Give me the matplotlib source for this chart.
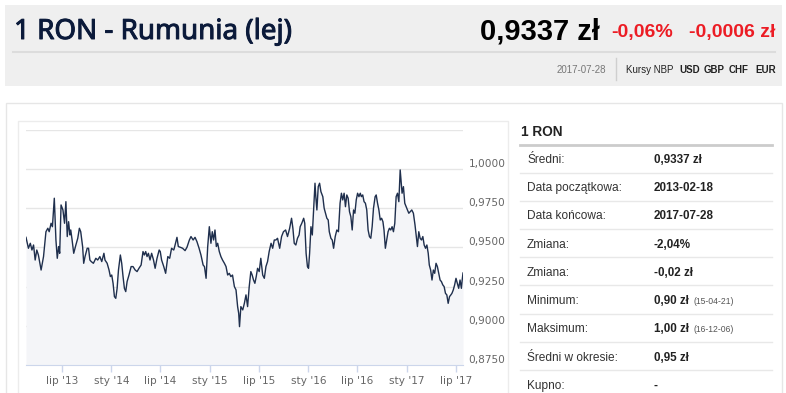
import numpy as np
import pandas as pd
import matplotlib
matplotlib.use('Agg')
import matplotlib.pyplot as plt
import matplotlib.patheffects as pe
from matplotlib.patches import Rectangle

# RON/PLN rate, day offsets counted from the start date
start_date = '2013-02-18'
day_offset = [0, 9, 16, 22, 28, 34, 40, 46, 56, 65, 74, 81, 86, 93, 98, 105, 111, 116, 121, 125,
              130, 137, 143, 148, 153, 158, 163, 166, 171, 177, 185, 192, 198, 203, 210, 214, 219, 227, 232, 237,
              242, 250, 259, 266, 274, 281, 289, 293, 301, 308, 313, 318, 323, 328, 333, 338, 343, 350, 355, 360,
              365, 370, 375, 382, 390, 397, 405, 412, 419, 427, 434, 439, 444, 449, 454, 460, 466, 473, 479, 486,
              494, 498, 503, 511, 518, 526, 533, 540, 548,
              550, 560, 565, 573, 581, 590, 597, 606, 612, 620, 627, 634, 642, 649, 657, 662, 668, 674, 680, 686,
              691, 696, 701, 706, 711, 717, 723, 729, 736, 742, 748, 754, 760, 766, 773, 779, 785, 789, 792, 797,
              804, 810, 816, 822, 828, 834, 839, 844, 849, 854, 859, 865, 871, 878, 884, 890, 896, 902, 909, 915,
              921, 927, 933, 941, 948, 955, 963, 970, 978, 985, 990, 995, 1001, 1007, 1013, 1017, 1023, 1030, 1034, 1039,
              1044, 1048, 1052, 1057, 1062, 1067, 1072, 1075, 1079, 1084, 1089, 1094,
              1101, 1106, 1111, 1116, 1121, 1125, 1131, 1136, 1141, 1147, 1153, 1159, 1165, 1170, 1175, 1180, 1185, 1190,
              1195, 1200, 1205, 1210, 1215, 1220, 1225, 1230, 1235, 1240, 1244, 1249, 1254, 1259, 1264, 1269, 1274, 1279,
              1284, 1289, 1295, 1299, 1304, 1309, 1314, 1319, 1324, 1328, 1333, 1338, 1343, 1348, 1353, 1358, 1363, 1368,
              1373, 1378, 1383, 1388, 1391, 1395, 1400, 1405, 1410, 1415, 1420, 1425, 1431, 1437, 1443, 1448, 1452, 1457,
              1462, 1467, 1472, 1477, 1482, 1487, 1492, 1496, 1501, 1506, 1511, 1516, 1521, 1526, 1531, 1536, 1541, 1546,
              1551, 1556, 1561, 1566, 1571, 1576, 1580, 1585, 1590, 1595, 1600, 1605, 1610, 1615, 1618, 1621]
rate = [0.9565, 0.9495, 0.9527, 0.9484, 0.9516, 0.9420, 0.9484, 0.9452, 0.9356, 0.9442, 0.9601, 0.9623, 0.9601, 0.9655, 0.9633, 0.9815, 0.9548, 0.9431, 0.9506, 0.9463,
        0.9772, 0.9740, 0.9655, 0.9793, 0.9570, 0.9665, 0.9580, 0.9612, 0.9548, 0.9463, 0.9516, 0.9559, 0.9623, 0.9601, 0.9506, 0.9399, 0.9442, 0.9495, 0.9495, 0.9420,
        0.9410, 0.9399, 0.9431, 0.9420, 0.9442, 0.9410, 0.9463, 0.9420, 0.9399, 0.9356, 0.9314, 0.9324, 0.9271, 0.9186, 0.9175, 0.9239, 0.9356, 0.9452, 0.9399, 0.9314,
        0.9239, 0.9218, 0.9282, 0.9324, 0.9378, 0.9378, 0.9356, 0.9346, 0.9367, 0.9388, 0.9474, 0.9452, 0.9474, 0.9442, 0.9463, 0.9420, 0.9463, 0.9420, 0.9367, 0.9431,
        0.9484, 0.9474, 0.9420, 0.9378, 0.9335, 0.9442, 0.9431, 0.9495, 0.9484,
        0.9495, 0.9565, 0.9506, 0.9501, 0.9495, 0.9480, 0.9501, 0.9548, 0.9570, 0.9548, 0.9565, 0.9538, 0.9495, 0.9452, 0.9388, 0.9378, 0.9303, 0.9506, 0.9633, 0.9527,
        0.9601, 0.9548, 0.9612, 0.9506, 0.9527, 0.9474, 0.9442, 0.9420, 0.9399, 0.9378, 0.9324, 0.9335, 0.9314, 0.9324, 0.9250, 0.9229, 0.9122, 0.9079, 0.8994, 0.9122,
        0.9101, 0.9143, 0.9197, 0.9122, 0.9250, 0.9346, 0.9324, 0.9292, 0.9271, 0.9314, 0.9367, 0.9346, 0.9431, 0.9324, 0.9303, 0.9378, 0.9410, 0.9474, 0.9527, 0.9495,
        0.9548, 0.9548, 0.9559, 0.9495, 0.9570, 0.9601, 0.9612, 0.9570, 0.9623, 0.9687, 0.9623, 0.9527, 0.9516, 0.9559, 0.9580, 0.9633, 0.9655, 0.9687, 0.9655, 0.9463,
        0.9378, 0.9367, 0.9463, 0.9633, 0.9580, 0.9740, 0.9911, 0.9825, 0.9740, 0.9889, 0.9911, 0.9857,
        0.9825, 0.9751, 0.9719, 0.9687, 0.9676, 0.9601, 0.9559, 0.9548, 0.9495, 0.9570, 0.9612, 0.9601, 0.9783, 0.9847, 0.9804, 0.9847, 0.9761, 0.9836,
        0.9815, 0.9729, 0.9697, 0.9612, 0.9740, 0.9719, 0.9804, 0.9847, 0.9825, 0.9847, 0.9825, 0.9836, 0.9793, 0.9783, 0.9740, 0.9612, 0.9570, 0.9559,
        0.9633, 0.9751, 0.9825, 0.9836, 0.9783, 0.9740, 0.9676, 0.9687, 0.9665, 0.9612, 0.9495, 0.9548, 0.9601, 0.9623, 0.9612, 0.9633, 0.9601, 0.9655,
        0.9825, 0.9847, 0.9793, 0.9996, 0.9932, 0.9847, 0.9889, 0.9783, 0.9761, 0.9740, 0.9719, 0.9729, 0.9740, 0.9719, 0.9644, 0.9570, 0.9506, 0.9601,
        0.9559, 0.9548, 0.9570, 0.9516, 0.9495, 0.9516, 0.9463, 0.9388, 0.9356, 0.9292, 0.9356, 0.9335, 0.9399, 0.9378, 0.9335, 0.9292, 0.9282, 0.9261,
        0.9250, 0.9207, 0.9197, 0.9143, 0.9186, 0.9197, 0.9207, 0.9229, 0.9261, 0.9303, 0.9271, 0.9239, 0.9292, 0.9239, 0.9292, 0.9337]

y_ticks = [0.875, 0.900, 0.925, 0.950, 0.975, 1.000, 1.025]
y_labels = ['0,8750', '0,9000', '0,9250', '0,9500', '0,9750', '1,0000', '']
x_tick_dates = ['2013-07-01', '2014-01-01', '2014-07-01', '2015-01-01', '2015-07-01',
                '2016-01-01', '2016-07-01', '2017-01-01', '2017-07-01']
x_labels = ["lip '13", "sty '14", "lip '14", "sty '15", "lip '15", "sty '16", "lip '16", "sty '17", "lip '17"]

table_labels = ['Średni:', 'Data początkowa:', 'Data końcowa:', 'Zmiana:', 'Zmiana:',
                'Minimum:', 'Maksimum:', 'Średni w okresie:', 'Kupno:']
table_values = ['0,9337 zł', '2013-02-18', '2017-07-28', '-2,04%', '-0,02 zł',
                '0,90 zł', '1,00 zł', '0,95 zł', '-']
table_notes = ['', '', '', '', '', '(15-04-21)', '(16-12-06)', '', '']

dates = pd.Timestamp(start_date) + pd.to_timedelta(day_offset, unit='D')

W, H = 786, 393
fig = plt.figure(figsize=(W / 100, H / 100), dpi=100)
fig.patch.set_facecolor('white')

# page layer in pixel coordinates
page = fig.add_axes([0, 0, 1, 1])
page.set_xlim(0, W)
page.set_ylim(H, 0)
page.axis('off')

page.add_patch(Rectangle((5, 5), 777, 81, facecolor='#efefef', edgecolor='none'))
page.plot([13, 775], [51.5, 51.5], color='#dcdcdc', lw=1.5)
page.text(14, 32, '1 RON - Rumunia (lej)', fontsize=20, family='Noto Sans', color='#0b1a3a',
          va='center', ha='left',
          path_effects=[pe.withStroke(linewidth=0.7, foreground='#0b1a3a')])
page.text(600, 32, '0,9337 zł', fontsize=21, family='Liberation Sans', weight='bold', color='black',
          va='center', ha='right')
page.text(611, 33, '-0,06%', fontsize=14, family='Liberation Sans', weight='bold', color='#ec1c24',
          va='center', ha='left')
page.text(775, 33, '-0,0006 zł', fontsize=14, family='Liberation Sans', weight='bold', color='#ec1c24',
          va='center', ha='right')
page.text(606, 70, '2017-07-28', fontsize=7.0, family='Liberation Sans', color='#777777', va='center', ha='right')
page.plot([616, 616], [58, 80], color='#cfcfcf', lw=1)
page.text(626, 70, 'Kursy NBP', fontsize=7.0, family='Liberation Sans', color='#222222', va='center')
for x, cur in zip([679, 704, 729, 755], ['USD', 'GBP', 'CHF', 'EUR']):
    page.text(x, 70, cur, fontsize=7.0, family='Liberation Sans', weight='bold', color='#222222', va='center')

# panels
page.add_patch(Rectangle((5.5, 102.5), 776, 300, facecolor='white', edgecolor='#e6e6e6', lw=1))
page.add_patch(Rectangle((17.5, 120.5), 490, 300, facecolor='white', edgecolor='#ececec', lw=1))

# info table
page.text(521, 131.5, '1 RON', fontsize=9.8, family='Liberation Sans', weight='bold', color='#222222', va='center')
page.plot([520, 772], [144.5, 144.5], color='#cccccc', lw=2)
row_y = [160, 188.3, 216.3, 244.5, 272.5, 301, 329.3, 357.7, 386]
for i, (lab, val, note) in enumerate(zip(table_labels, table_values, table_notes)):
    y = row_y[i]
    page.text(527, y, lab, fontsize=8.6, family='Liberation Sans', color='#333333', va='center')
    page.text(654, y, val, fontsize=8.4, family='Liberation Sans', weight='bold', color='#222222', va='center')
    if note:
        page.text(693, y + 0.5, note, fontsize=6.2, family='Liberation Sans', color='#555555', va='center')
    if i < len(table_labels) - 1:
        page.plot([520, 772], [y + 12.5, y + 12.5], color='#e8e8e8', lw=1)

# chart
ax = fig.add_axes([26 / W, (H - 364.8) / H, 437 / W, 234.6 / H])
ax.set_facecolor('white')
ax.fill_between(dates, rate, 0.875, color='#f4f5f8', lw=0)
ax.plot(dates, rate, color='#1f2f4d', lw=1.0)
ax.set_xlim(pd.Timestamp(start_date), dates[-1])
ax.set_ylim(0.875, 1.025)

ax.set_yticks(y_ticks)
ax.set_yticklabels(y_labels)
ax.yaxis.tick_right()
ax.tick_params(axis='y', length=0, pad=4, labelsize=7.6, labelcolor='#666666')
for lab in ax.get_yticklabels():
    lab.set_va('bottom')
ax.grid(axis='y', color='#e6e6e6', lw=1)
ax.set_axisbelow(True)

ax.set_xticks(pd.to_datetime(x_tick_dates))
ax.set_xticklabels(x_labels)
ax.tick_params(axis='x', length=5, width=1, color='#ccd6eb', pad=3, labelsize=7.6, labelcolor='#666666')

for s in ['top', 'left', 'right']:
    ax.spines[s].set_visible(False)
ax.spines['bottom'].set_color('#ccd6eb')

fig.savefig('out.png', dpi=100)
